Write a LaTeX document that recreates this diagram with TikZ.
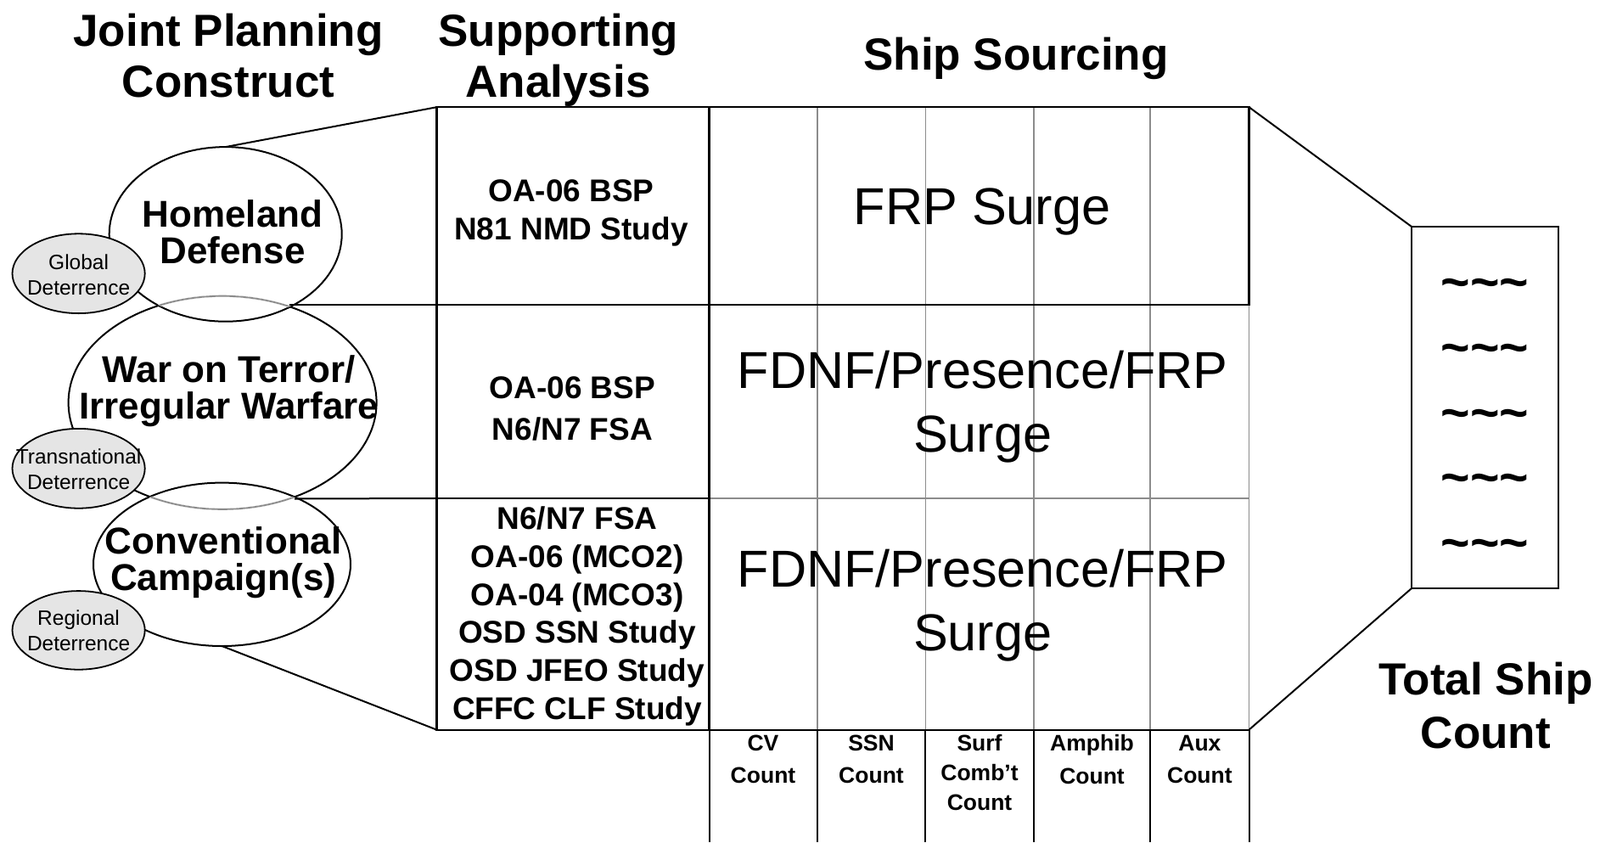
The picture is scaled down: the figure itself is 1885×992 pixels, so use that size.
\documentclass[tikz,border=0pt]{standalone}
\usepackage{fontspec}
\setmainfont{Liberation Sans}
\usetikzlibrary{shapes.geometric}
\newcommand\fpx[2]{\fontsize{#1}{#2}\selectfont}
\begin{document}
\begin{tikzpicture}[x=0.5pt,y=-0.5pt,
  ln/.style={line width=1pt},
  bigell/.style={ellipse, draw, line width=1pt, inner sep=0pt, outer sep=0pt},
  smallell/.style={ellipse, draw, line width=0.9pt, fill=black!10, inner sep=0pt, outer sep=0pt, minimum width=78.1pt, minimum height=46.9pt},
  cellbox/.style={rectangle, draw, line width=1.1pt, inner sep=0pt, outer sep=0pt},
  faintbox/.style={rectangle, draw=black!45, line width=0.9pt, inner sep=0pt, outer sep=0pt},
  faint/.style={draw=black!45, line width=0.9pt},
  title/.style={font=\bfseries\fpx{26.5pt}{30pt}, align=center, inner sep=0pt},
  elltext/.style={font=\bfseries\fpx{22pt}{21.5pt}, align=center, inner sep=0pt},
  smalltext/.style={font=\fpx{12.25pt}{15pt}, align=center, inner sep=0pt},
  satext/.style={font=\bfseries\fpx{18.5pt}{22.85pt}, align=center, inner sep=0pt},
  bigtext/.style={font=\fpx{30.6pt}{37.5pt}, align=center, inner sep=0pt},
  counttext/.style={font=\bfseries\fpx{13.25pt}{19.25pt}, align=center, inner sep=0pt}
]
\useasboundingbox (0,0) rectangle (1885,992);

% ---- titles
\node[title] (tJPC) at (269,66) {Joint Planning\\Construct};
\node[title] (tSA) at (657.6,71) {Supporting\\Analysis};
\node[title] (tSS) at (1197,69) {Ship Sourcing};

% ---- ship sourcing grid
\node[faintbox, minimum width=318pt, minimum height=114pt] (R2) at (1153.5,473) {};
\node[faintbox, minimum width=318pt, minimum height=136.3pt] (R3) at (1153.5,723.3) {};
\foreach \cx in {962.7,1090.4,1217.6,1355.3} {
  \draw[faint] (\cx,126.2) -- (\cx,859.6);
}
\node[cellbox, minimum width=318pt, minimum height=116.4pt] (R1) at (1153.5,242.6) {};
\draw[line width=1.8pt] (R1.north east) -- (R1.south east);
\draw[ln] (R3.south west) -- (R3.south east);
\foreach \cx in {835.5,962.7,1090.4,1217.6,1355.3,1471.5} {
  \draw[ln] (\cx,859.6) -- (\cx,992);
}

% ---- supporting analysis cells
\node[cellbox, minimum width=160.5pt, minimum height=116.4pt] (SA1) at (675,242.6) {};
\node[cellbox, minimum width=160.5pt, minimum height=114pt] (SA2) at (675,473) {};
\node[cellbox, minimum width=160.5pt, minimum height=136.3pt] (SA3) at (675,723.3) {};

% ---- big ellipses
\node[bigell, minimum width=181.5pt, minimum height=125.6pt] (WT) at (262.1,474.3) {};
\node[bigell, minimum width=137pt, minimum height=102.8pt] (HD) at (265.7,275.9) {};
\node[bigell, minimum width=151.5pt, minimum height=96.2pt] (CC) at (261.5,664.8) {};
\begin{scope}
  \clip (HD.center) ellipse [x radius=68.2pt, y radius=51.1pt];
  \draw[white, line width=1.4pt] (WT.center) ellipse [x radius=90.75pt, y radius=62.8pt];
  \draw[black!45, line width=0.9pt] (WT.center) ellipse [x radius=90.75pt, y radius=62.8pt];
\end{scope}
\begin{scope}
  \clip (CC.center) ellipse [x radius=75.4pt, y radius=47.8pt];
  \draw[white, line width=1.4pt] (WT.center) ellipse [x radius=90.75pt, y radius=62.8pt];
  \draw[black!45, line width=0.9pt] (WT.center) ellipse [x radius=90.75pt, y radius=62.8pt];
\end{scope}

% ---- small ellipses
\node[smallell] (GD) at (92.6,322.2) {};
\node[smallell] (TD) at (92.6,551.8) {};
\node[smallell, minimum height=46.3pt] (RD) at (92.6,742.4) {};

% ---- connectors
\coordinate (I1) at (341,359);
\coordinate (I2) at (347,587.5);
\draw[ln] (HD.north) -- (SA1.north west);
\draw[ln] (CC.south) -- (SA3.south west);
\draw[ln] (I1) -- (SA2.north west);
\draw[ln] (I2) -- (SA3.north west);

% ---- total ship count
\node[rectangle, draw, line width=1pt, inner sep=0pt, outer sep=0pt, minimum width=86.35pt, minimum height=213pt] (TS) at (1749.4,480) {};
\draw[ln] (R1.north east) -- (TS.north west);
\draw[ln] (R3.south east) -- (TS.south west);
\node[font=\bfseries\fpx{29.5pt}{38.3pt}, align=center, inner sep=0pt] (tTil) at (1749.4,494)
  {\textasciitilde\textasciitilde\textasciitilde\\\textasciitilde\textasciitilde\textasciitilde\\\textasciitilde\textasciitilde\textasciitilde\\\textasciitilde\textasciitilde\textasciitilde\\\textasciitilde\textasciitilde\textasciitilde};
\node[title, font=\bfseries\fpx{26.5pt}{31.85pt}] (tTS) at (1750.4,831) {Total Ship\\Count};

% ---- ellipse labels
\node[elltext] (tHD) at (274,273.5) {Homeland\\Defense};
\node[elltext] (tWT) at (270,461) {War on Terror/\\Irregular Warfare};
\node[elltext] (tCC) at (263.3,663) {Conventional\\Campaign(s)};
\node[smalltext] (tGD) at (92.6,324) {Global\\Deterrence};
\node[smalltext] (tTD) at (92.6,553) {Transnational\\Deterrence};
\node[smalltext] (tRD) at (92.6,743) {Regional\\Deterrence};

% ---- supporting analysis labels
\node[satext] (tS1) at (673,251) {OA-06 BSP\\N81 NMD Study};
\node[satext, font=\bfseries\fpx{18.5pt}{24.5pt}] (tS2) at (674.4,481) {OA-06 BSP\\N6/N7 FSA};
\node[satext, font=\bfseries\fpx{18.5pt}{22.35pt}] (tS3) at (680,726) {N6/N7 FSA\\OA-06 (MCO2)\\OA-04 (MCO3)\\OSD SSN Study\\OSD JFEO Study\\CFFC CLF Study};

% ---- ship sourcing labels
\node[bigtext] (tR1) at (1157,249) {FRP Surge};
\node[bigtext] (tR2) at (1157.7,479) {FDNF/Presence/FRP\\Surge};
\node[bigtext] (tR3) at (1157.7,713) {FDNF/Presence/FRP\\Surge};

% ---- count labels
\node[counttext] (cCV) at (899,894.4) {CV\\Count};
\node[counttext] (cSSN) at (1026.5,894.4) {SSN\\Count};
\node[counttext, font=\bfseries\fpx{13.25pt}{17.5pt}] (cSurf) at (1154,910) {Surf\\Comb’t\\Count};
\node[counttext] (cAmph) at (1286.5,894.4) {Amphib\\Count};
\node[counttext] (cAux) at (1413.4,894.4) {Aux\\Count};
\end{tikzpicture}
\end{document}
